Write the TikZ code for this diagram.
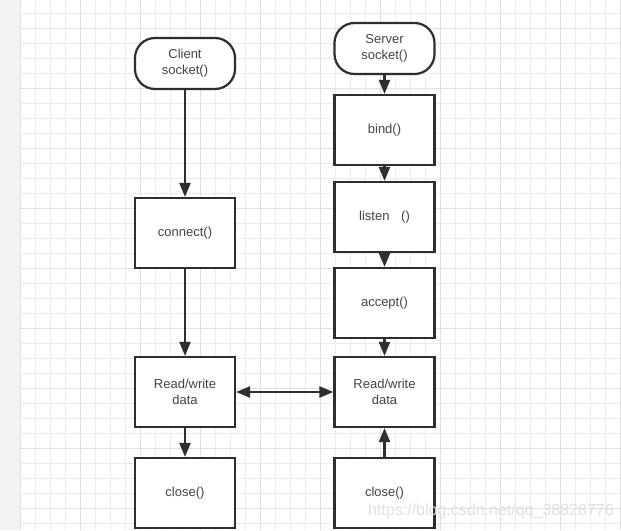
\documentclass[tikz,border=0pt]{standalone}
\usepackage{fontspec}
\setmainfont{Liberation Sans}
\usetikzlibrary{arrows.meta}
\definecolor{ln}{HTML}{2E2E2E}
\definecolor{txt}{HTML}{444444}
\definecolor{gminor}{HTML}{EBEBEB}
\definecolor{gmajor}{HTML}{E0E0E0}
\definecolor{strip}{HTML}{F2F2F2}
\tikzset{
  boxnode/.style={draw=ln, line width=2.2pt, fill=white, minimum width=100pt, minimum height=70pt, inner sep=2pt, align=center, font=\fontsize{13}{16}\selectfont, text=txt},
  termnode/.style={boxnode, minimum height=51pt, rounded corners=20pt},
  flow/.style={draw=ln, line width=2.2pt, -{Triangle[length=14pt,width=11pt]}},
  flow2/.style={draw=ln, line width=2.2pt, {Triangle[length=14pt,width=11pt]}-{Triangle[length=14pt,width=11pt]}}
}
\begin{document}
\begin{tikzpicture}[x=1pt,y=-1pt]
\useasboundingbox (0,0) rectangle (621,530);
\fill[white] (0,0) rectangle (621,530);
\fill[strip] (0,0) rectangle (20,530);
\foreach \i in {0,...,40} {
  \draw[gminor, line width=1pt] ({20+15*\i},0) -- ({20+15*\i},530);
}
\foreach \j in {0,...,35} {
  \draw[gminor, line width=1pt] (20,{13+15*\j}) -- (621,{13+15*\j});
}
\foreach \i in {0,...,10} {
  \draw[gmajor, line width=1pt] ({20+60*\i},0) -- ({20+60*\i},530);
}
\foreach \j in {0,...,8} {
  \draw[gmajor, line width=1pt] (20,{28+60*\j}) -- (621,{28+60*\j});
}

\node[termnode] (csock) at (185,63.5) {Client\\socket()};
\node[boxnode] (conn) at (185,233) {connect()};
\node[boxnode] (crw) at (185,392) {Read/write\\data};
\node[boxnode] (cclose) at (185,493) {close()};

\node[termnode] (ssock) at (384.5,48.5) {Server\\socket()};
\node[boxnode] (bind) at (384.5,130) {bind()};
\node[boxnode] (listen) at (384.5,217) {listen\hspace{0.9em}()};
\node[boxnode] (accept) at (384.5,303) {accept()};
\node[boxnode] (srw) at (384.5,392) {Read/write\\data};
\node[boxnode] (sclose) at (384.5,493) {close()};

\draw[flow] (csock) -- (conn);
\draw[flow] (conn) -- (crw);
\draw[flow] (crw) -- (cclose);
\draw[flow] (ssock) -- (bind);
\draw[flow] (bind) -- (listen);
\draw[flow] (listen) -- (accept);
\draw[flow] (accept) -- (srw);
\draw[flow] (sclose) -- (srw);
\draw[flow2] (crw) -- (srw);

\node[text=black!12, font=\fontsize{16}{19}\selectfont, anchor=west, inner sep=0pt] (wm) at (368,511) {https://blog.csdn.net/qq\_38828776};
\end{tikzpicture}
\end{document}
